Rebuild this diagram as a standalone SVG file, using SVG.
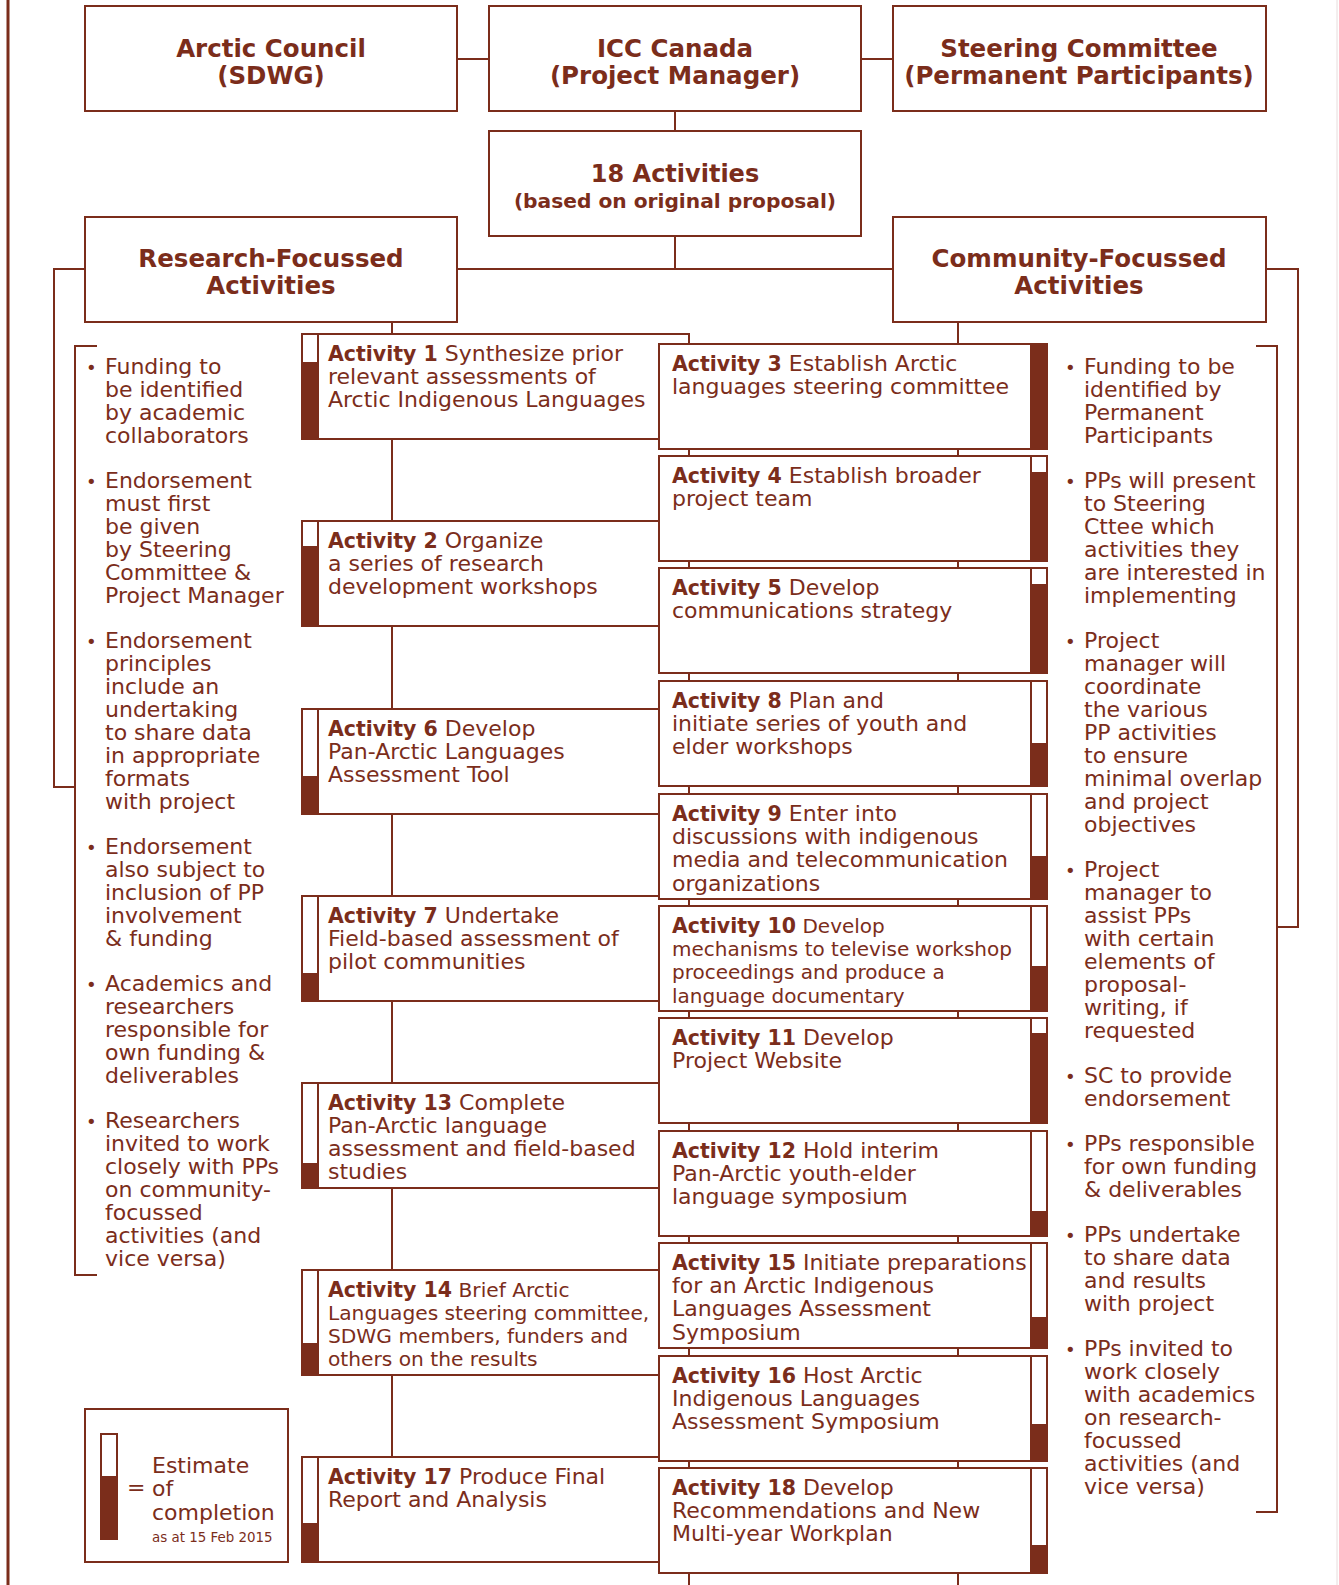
<svg xmlns="http://www.w3.org/2000/svg" width="1339" height="1585" viewBox="0 0 1339 1585">
<style>
.box{fill:#fff;stroke:#7b2d1b;stroke-width:2}
.bar{fill:#fff;stroke:#7b2d1b;stroke-width:2}
.fill{fill:#7b2d1b}
.ln{fill:none;stroke:#7b2d1b;stroke-width:2}
.h{font-family:"DejaVu Sans",sans-serif;font-weight:bold;fill:#7b2d1b;font-size:24.5px;text-anchor:middle}
.t{font-family:"DejaVu Sans",sans-serif;fill:#7b2d1b;font-size:22px}
.s{font-size:20.2px}
.s2{font-size:20px}
.b{font-weight:bold;font-size:20.5px}
.bl{font-family:"DejaVu Sans",sans-serif;fill:#7b2d1b;font-size:18px}
</style>
<rect x="0" y="0" width="1339" height="1585" fill="#fff"/>
<g id="connectors">
<line class="ln" x1="8" y1="0" x2="8" y2="1585" style="stroke-width:3"/>
<line x1="1337" y1="0" x2="1337" y2="1585" stroke="#e8dcdc" stroke-width="1"/>
<line class="ln" x1="457" y1="59" x2="489" y2="59"/>
<line class="ln" x1="861" y1="59" x2="893" y2="59"/>
<line class="ln" x1="675" y1="111" x2="675" y2="131"/>
<line class="ln" x1="675" y1="236" x2="675" y2="269"/>
<line class="ln" x1="457" y1="269" x2="893" y2="269"/>
<polyline class="ln" points="85,269 54,269 54,787 75,787"/>
<polyline class="ln" points="97,346 75,346 75,1275 97,1275"/>
<polyline class="ln" points="1266,269 1298,269 1298,927 1277,927"/>
<polyline class="ln" points="1256,346 1277,346 1277,1512 1256,1512"/>
<line class="ln" x1="392" y1="322" x2="392" y2="1457"/>
<line class="ln" x1="958" y1="322" x2="958" y2="1585"/>
<line class="ln" x1="689" y1="334" x2="689" y2="1585"/>
</g>
<g id="arctic-council"><rect class="box" x="85" y="6" width="372" height="105"/><text class="h" x="271" y="57">Arctic Council<tspan x="271" y="84">(SDWG)</tspan></text></g>
<g id="icc-canada"><rect class="box" x="489" y="6" width="372" height="105"/><text class="h" x="675" y="57">ICC Canada<tspan x="675" y="84">(Project Manager)</tspan></text></g>
<g id="steering"><rect class="box" x="893" y="6" width="373" height="105"/><text class="h" x="1079" y="57">Steering Committee<tspan x="1079" y="84">(Permanent Participants)</tspan></text></g>
<g id="activities18"><rect class="box" x="489" y="131" width="372" height="105"/><text class="h" x="675" y="182" style="font-size:24px">18 Activities<tspan x="675" y="208" style="font-size:20.2px">(based on original proposal)</tspan></text></g>
<g id="research"><rect class="box" x="85" y="217" width="372" height="105"/><text class="h" x="271" y="267">Research-Focussed<tspan x="271" y="294">Activities</tspan></text></g>
<g id="community"><rect class="box" x="893" y="217" width="373" height="105"/><text class="h" x="1079" y="267">Community-Focussed<tspan x="1079" y="294">Activities</tspan></text></g>

<g id="act1"><rect class="box" x="302" y="334" width="387" height="105"/><rect class="bar" x="302" y="334" width="16" height="105"/><rect class="fill" x="302" y="362" width="16" height="77"/><text class="t" x="328" y="360.5"><tspan class="b">Activity 1</tspan> Synthesize prior<tspan x="328" dy="23.3">relevant assessments of</tspan><tspan x="328" dy="23.3">Arctic Indigenous Languages</tspan></text></g>
<g id="act2"><rect class="box" x="302" y="521" width="387" height="105"/><rect class="bar" x="302" y="521" width="16" height="105"/><rect class="fill" x="302" y="546" width="16" height="80"/><text class="t" x="328" y="547.5"><tspan class="b">Activity 2</tspan> Organize<tspan x="328" dy="23.3">a series of research</tspan><tspan x="328" dy="23.3">development workshops</tspan></text></g>
<g id="act6"><rect class="box" x="302" y="709" width="387" height="105"/><rect class="bar" x="302" y="709" width="16" height="105"/><rect class="fill" x="302" y="776" width="16" height="38"/><text class="t" x="328" y="735.5"><tspan class="b">Activity 6</tspan> Develop<tspan x="328" dy="23.3">Pan-Arctic Languages</tspan><tspan x="328" dy="23.3">Assessment Tool</tspan></text></g>
<g id="act7"><rect class="box" x="302" y="896" width="387" height="105"/><rect class="bar" x="302" y="896" width="16" height="105"/><rect class="fill" x="302" y="973" width="16" height="28"/><text class="t" x="328" y="922.5"><tspan class="b">Activity 7</tspan> Undertake<tspan x="328" dy="23.3">Field-based assessment of</tspan><tspan x="328" dy="23.3">pilot communities</tspan></text></g>
<g id="act13"><rect class="box" x="302" y="1083" width="387" height="105"/><rect class="bar" x="302" y="1083" width="16" height="105"/><rect class="fill" x="302" y="1163" width="16" height="25"/><text class="t" x="328" y="1109.5"><tspan class="b">Activity 13</tspan> Complete<tspan x="328" dy="23.2">Pan-Arctic language</tspan><tspan x="328" dy="23.2">assessment and field-based</tspan><tspan x="328" dy="23.2">studies</tspan></text></g>
<g id="act14"><rect class="box" x="302" y="1270" width="387" height="105"/><rect class="bar" x="302" y="1270" width="16" height="105"/><rect class="fill" x="302" y="1343" width="16" height="32"/><text class="t s" x="328" y="1296.5"><tspan class="b">Activity 14</tspan> Brief Arctic<tspan x="328" dy="23.2">Languages steering committee,</tspan><tspan x="328" dy="23.2">SDWG members, funders and</tspan><tspan x="328" dy="23.2">others on the results</tspan></text></g>
<g id="act17"><rect class="box" x="302" y="1457" width="387" height="105"/><rect class="bar" x="302" y="1457" width="16" height="105"/><rect class="fill" x="302" y="1523" width="16" height="39"/><text class="t" x="328" y="1483.5"><tspan class="b">Activity 17</tspan> Produce Final<tspan x="328" dy="23.3">Report and Analysis</tspan></text></g>

<g id="act3"><rect class="box" x="659" y="344" width="388" height="105"/><rect class="bar" x="1031" y="344" width="16" height="105"/><rect class="fill" x="1031" y="344" width="16" height="105"/><text class="t" x="672" y="371"><tspan class="b">Activity 3</tspan> Establish Arctic<tspan x="672" dy="23.2">languages steering committee</tspan></text></g>
<g id="act4"><rect class="box" x="659" y="456" width="388" height="105"/><rect class="bar" x="1031" y="456" width="16" height="105"/><rect class="fill" x="1031" y="472" width="16" height="89"/><text class="t" x="672" y="483"><tspan class="b">Activity 4</tspan> Establish broader<tspan x="672" dy="23.2">project team</tspan></text></g>
<g id="act5"><rect class="box" x="659" y="568" width="388" height="105"/><rect class="bar" x="1031" y="568" width="16" height="105"/><rect class="fill" x="1031" y="584" width="16" height="89"/><text class="t" x="672" y="595"><tspan class="b">Activity 5</tspan> Develop<tspan x="672" dy="23.2">communications strategy</tspan></text></g>
<g id="act8"><rect class="box" x="659" y="681" width="388" height="105"/><rect class="bar" x="1031" y="681" width="16" height="105"/><rect class="fill" x="1031" y="743" width="16" height="43"/><text class="t" x="672" y="708"><tspan class="b">Activity 8</tspan> Plan and<tspan x="672" dy="23.2">initiate series of youth and</tspan><tspan x="672" dy="23.2">elder workshops</tspan></text></g>
<g id="act9"><rect class="box" x="659" y="794" width="388" height="105"/><rect class="bar" x="1031" y="794" width="16" height="105"/><rect class="fill" x="1031" y="856" width="16" height="43"/><text class="t" x="672" y="821"><tspan class="b">Activity 9</tspan> Enter into<tspan x="672" dy="23.2">discussions with indigenous</tspan><tspan x="672" dy="23.2">media and telecommunication</tspan><tspan x="672" dy="23.2">organizations</tspan></text></g>
<g id="act10"><rect class="box" x="659" y="906" width="388" height="105"/><rect class="bar" x="1031" y="906" width="16" height="105"/><rect class="fill" x="1031" y="966" width="16" height="45"/><text class="t s2" x="672" y="933"><tspan class="b">Activity 10</tspan> Develop<tspan x="672" dy="23.2">mechanisms to televise workshop</tspan><tspan x="672" dy="23.2">proceedings and produce a</tspan><tspan x="672" dy="23.2">language documentary</tspan></text></g>
<g id="act11"><rect class="box" x="659" y="1018" width="388" height="105"/><rect class="bar" x="1031" y="1018" width="16" height="105"/><rect class="fill" x="1031" y="1033" width="16" height="90"/><text class="t" x="672" y="1045"><tspan class="b">Activity 11</tspan> Develop<tspan x="672" dy="23.2">Project Website</tspan></text></g>
<g id="act12"><rect class="box" x="659" y="1131" width="388" height="105"/><rect class="bar" x="1031" y="1131" width="16" height="105"/><rect class="fill" x="1031" y="1211" width="16" height="25"/><text class="t" x="672" y="1158"><tspan class="b">Activity 12</tspan> Hold interim<tspan x="672" dy="23.2">Pan-Arctic youth-elder</tspan><tspan x="672" dy="23.2">language symposium</tspan></text></g>
<g id="act15"><rect class="box" x="659" y="1243" width="388" height="105"/><rect class="bar" x="1031" y="1243" width="16" height="105"/><rect class="fill" x="1031" y="1317" width="16" height="31"/><text class="t" x="672" y="1270"><tspan class="b">Activity 15</tspan> Initiate preparations<tspan x="672" dy="23.2">for an Arctic Indigenous</tspan><tspan x="672" dy="23.2">Languages Assessment</tspan><tspan x="672" dy="23.2">Symposium</tspan></text></g>
<g id="act16"><rect class="box" x="659" y="1356" width="388" height="105"/><rect class="bar" x="1031" y="1356" width="16" height="105"/><rect class="fill" x="1031" y="1424" width="16" height="37"/><text class="t" x="672" y="1383"><tspan class="b">Activity 16</tspan> Host Arctic<tspan x="672" dy="23.2">Indigenous Languages</tspan><tspan x="672" dy="23.2">Assessment Symposium</tspan></text></g>
<g id="act18"><rect class="box" x="659" y="1468" width="388" height="105"/><rect class="bar" x="1031" y="1468" width="16" height="105"/><rect class="fill" x="1031" y="1545" width="16" height="28"/><text class="t" x="672" y="1495"><tspan class="b">Activity 18</tspan> Develop<tspan x="672" dy="23.2">Recommendations and New</tspan><tspan x="672" dy="23.2">Multi-year Workplan</tspan></text></g>

<g id="research-notes">
<text class="bl" x="86" y="374">•</text><text class="t" x="105" y="374">Funding to<tspan x="105" dy="23">be identified</tspan><tspan x="105" dy="23">by academic</tspan><tspan x="105" dy="23">collaborators</tspan></text>
<text class="bl" x="86" y="488">•</text><text class="t" x="105" y="488">Endorsement<tspan x="105" dy="23">must first</tspan><tspan x="105" dy="23">be given</tspan><tspan x="105" dy="23">by Steering</tspan><tspan x="105" dy="23">Committee &amp;</tspan><tspan x="105" dy="23">Project Manager</tspan></text>
<text class="bl" x="86" y="648">•</text><text class="t" x="105" y="648">Endorsement<tspan x="105" dy="23">principles</tspan><tspan x="105" dy="23">include an</tspan><tspan x="105" dy="23">undertaking</tspan><tspan x="105" dy="23">to share data</tspan><tspan x="105" dy="23">in appropriate</tspan><tspan x="105" dy="23">formats</tspan><tspan x="105" dy="23">with project</tspan></text>
<text class="bl" x="86" y="854">•</text><text class="t" x="105" y="854">Endorsement<tspan x="105" dy="23">also subject to</tspan><tspan x="105" dy="23">inclusion of PP</tspan><tspan x="105" dy="23">involvement</tspan><tspan x="105" dy="23">&amp; funding</tspan></text>
<text class="bl" x="86" y="991">•</text><text class="t" x="105" y="991">Academics and<tspan x="105" dy="23">researchers</tspan><tspan x="105" dy="23">responsible for</tspan><tspan x="105" dy="23">own funding &amp;</tspan><tspan x="105" dy="23">deliverables</tspan></text>
<text class="bl" x="86" y="1128">•</text><text class="t" x="105" y="1128">Researchers<tspan x="105" dy="23">invited to work</tspan><tspan x="105" dy="23">closely with PPs</tspan><tspan x="105" dy="23">on community-</tspan><tspan x="105" dy="23">focussed</tspan><tspan x="105" dy="23">activities (and</tspan><tspan x="105" dy="23">vice versa)</tspan></text>
</g>

<g id="community-notes">
<text class="bl" x="1065" y="374">•</text><text class="t" x="1084" y="374">Funding to be<tspan x="1084" dy="23">identified by</tspan><tspan x="1084" dy="23">Permanent</tspan><tspan x="1084" dy="23">Participants</tspan></text>
<text class="bl" x="1065" y="488">•</text><text class="t" x="1084" y="488">PPs will present<tspan x="1084" dy="23">to Steering</tspan><tspan x="1084" dy="23">Cttee which</tspan><tspan x="1084" dy="23">activities they</tspan><tspan x="1084" dy="23">are interested in</tspan><tspan x="1084" dy="23">implementing</tspan></text>
<text class="bl" x="1065" y="648">•</text><text class="t" x="1084" y="648">Project<tspan x="1084" dy="23">manager will</tspan><tspan x="1084" dy="23">coordinate</tspan><tspan x="1084" dy="23">the various</tspan><tspan x="1084" dy="23">PP activities</tspan><tspan x="1084" dy="23">to ensure</tspan><tspan x="1084" dy="23">minimal overlap</tspan><tspan x="1084" dy="23">and project</tspan><tspan x="1084" dy="23">objectives</tspan></text>
<text class="bl" x="1065" y="877">•</text><text class="t" x="1084" y="877">Project<tspan x="1084" dy="23">manager to</tspan><tspan x="1084" dy="23">assist PPs</tspan><tspan x="1084" dy="23">with certain</tspan><tspan x="1084" dy="23">elements of</tspan><tspan x="1084" dy="23">proposal-</tspan><tspan x="1084" dy="23">writing, if</tspan><tspan x="1084" dy="23">requested</tspan></text>
<text class="bl" x="1065" y="1083">•</text><text class="t" x="1084" y="1083">SC to provide<tspan x="1084" dy="23">endorsement</tspan></text>
<text class="bl" x="1065" y="1151">•</text><text class="t" x="1084" y="1151">PPs responsible<tspan x="1084" dy="23">for own funding</tspan><tspan x="1084" dy="23">&amp; deliverables</tspan></text>
<text class="bl" x="1065" y="1242">•</text><text class="t" x="1084" y="1242">PPs undertake<tspan x="1084" dy="23">to share data</tspan><tspan x="1084" dy="23">and results</tspan><tspan x="1084" dy="23">with project</tspan></text>
<text class="bl" x="1065" y="1356">•</text><text class="t" x="1084" y="1356">PPs invited to<tspan x="1084" dy="23">work closely</tspan><tspan x="1084" dy="23">with academics</tspan><tspan x="1084" dy="23">on research-</tspan><tspan x="1084" dy="23">focussed</tspan><tspan x="1084" dy="23">activities (and</tspan><tspan x="1084" dy="23">vice versa)</tspan></text>
</g>

<g id="legend">
<rect class="box" x="85" y="1409" width="203" height="153"/>
<rect class="bar" x="101" y="1434" width="16" height="105"/>
<rect class="fill" x="101" y="1476" width="16" height="63"/>
<text class="t" x="127" y="1495">=</text>
<text class="t" x="152" y="1473">Estimate<tspan x="152" dy="23">of</tspan><tspan x="152" dy="24">completion</tspan></text>
<text class="t" x="152" y="1542" style="font-size:13.4px">as at 15 Feb 2015</text>
</g>
</svg>
